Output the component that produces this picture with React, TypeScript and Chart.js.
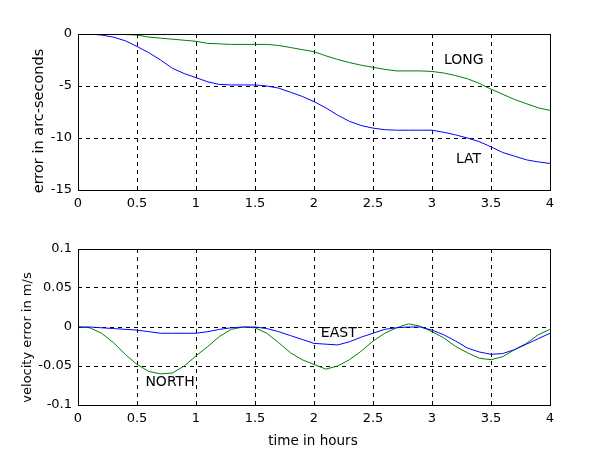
import React, { useEffect, useRef } from "react";
import { Chart, registerables } from "chart.js";

Chart.register(...registerables);

// ---------- data ----------
const timeHours = [
  0, 0.1, 0.2, 0.3, 0.4, 0.5, 0.6, 0.7, 0.8, 0.9, 1.0, 1.1, 1.2, 1.3, 1.4, 1.5, 1.6, 1.7, 1.8, 1.9, 2.0,
  2.1, 2.2, 2.3, 2.4, 2.5, 2.6, 2.7, 2.8, 2.9, 3.0, 3.1, 3.2, 3.3, 3.4, 3.5, 3.6, 3.7, 3.8, 3.9, 4.0,
];

const latError = [
  0, 0, -0.1, -0.3, -0.65, -1.2, -1.8, -2.5, -3.3, -3.8, -4.2, -4.6, -4.85, -4.9, -4.9, -4.9, -5.0, -5.2,
  -5.6, -6.0, -6.5, -7.1, -7.8, -8.4, -8.8, -9.05, -9.2, -9.25, -9.25, -9.25, -9.25, -9.45, -9.7, -10.0,
  -10.35, -10.85, -11.4, -11.75, -12.1, -12.3, -12.45,
];

const longError = [
  0, 0, 0, 0, -0.05, -0.1, -0.3, -0.4, -0.5, -0.6, -0.7, -0.9, -0.95, -1.0, -1.0, -1.0, -1.0, -1.1, -1.3,
  -1.5, -1.7, -2.1, -2.45, -2.75, -3.0, -3.2, -3.4, -3.55, -3.55, -3.55, -3.6, -3.75, -4.0, -4.3, -4.75,
  -5.3, -5.8, -6.3, -6.7, -7.1, -7.35,
];

const northVelError = [
  0, -0.001, -0.008, -0.02, -0.035, -0.048, -0.057, -0.06, -0.059, -0.05, -0.037, -0.025, -0.012, -0.003,
  0, -0.001, -0.008, -0.02, -0.033, -0.042, -0.048, -0.054, -0.05, -0.042, -0.031, -0.018, -0.008, -0.001,
  0.004, 0.001, -0.006, -0.014, -0.025, -0.033, -0.04, -0.042, -0.038, -0.029, -0.021, -0.01, -0.003,
];

const eastVelError = [
  0, 0, -0.001, -0.002, -0.003, -0.004, -0.006, -0.008, -0.008, -0.008, -0.008, -0.006, -0.003, -0.001, 0,
  0, -0.002, -0.006, -0.011, -0.016, -0.021, -0.022, -0.023, -0.019, -0.013, -0.008, -0.003, -0.001, 0, 0,
  -0.004, -0.01, -0.018, -0.027, -0.032, -0.035, -0.034, -0.029, -0.022, -0.015, -0.008,
];

const xTickValues = [0, 0.5, 1, 1.5, 2, 2.5, 3, 3.5, 4];
const xTickLabels = ["0", "0.5", "1", "1.5", "2", "2.5", "3", "3.5", "4"];
const posTickValues = [-15, -10, -5, 0];
const posTickLabels = ["-15", "-10", "-5", "0"];
const velTickValues = [-0.1, -0.05, 0, 0.05, 0.1];
const velTickLabels = ["-0.1", "-0.05", "0", "0.05", "0.1"];

const topLabels = [
  { text: "LONG", x: 3.27, y: -2.37 },
  { text: "LAT", x: 3.31, y: -11.9 },
];
const bottomLabels = [
  { text: "EAST", x: 2.21, y: -0.0067 },
  { text: "NORTH", x: 0.78, y: -0.069 },
];

const topYTitle = "error in arc-seconds";
const bottomYTitle = "velocity error in m/s";
const xTitle = "time in hours";

// ---------- styling ----------
const FONT = "'DejaVu Sans', sans-serif";
const BLUE = "rgb(0,0,255)";
const GREEN = "rgb(0,128,0)";

function toPoints(values: number[]) {
  return timeHours.map((t, i) => ({ x: t, y: values[i] }));
}

function makeDecor(cfg: {
  labels: { text: string; x: number; y: number }[];
  yTitle: string;
  yTitleX: number;
  yTitleY: number;
  yTitleSize: number;
  xTitle?: string;
  xTitleX?: number;
  xTitleY?: number;
}) {
  return {
    id: "decor",
    afterDatasetsDraw(chart: any) {
      const ctx = chart.ctx as CanvasRenderingContext2D;
      const { left, top, right, bottom } = chart.chartArea;
      const xs = chart.scales.x;
      const ys = chart.scales.y;
      ctx.save();
      ctx.setLineDash([]);
      ctx.strokeStyle = "#000";
      ctx.lineWidth = 1;
      const l = Math.round(left) + 0.5;
      const t = Math.round(top) + 0.5;
      const r = Math.round(right) + 0.5;
      const b = Math.round(bottom) + 0.5;
      ctx.strokeRect(l, t, r - l, b - t);

      ctx.fillStyle = "#000";
      ctx.font = `14px ${FONT}`;
      ctx.textAlign = "center";
      ctx.textBaseline = "alphabetic";
      for (const lab of cfg.labels) {
        const px = xs.getPixelForValue(lab.x);
        const py = ys.getPixelForValue(lab.y);
        ctx.fillText(lab.text, px, py + 5);
      }

      ctx.save();
      ctx.font = `${cfg.yTitleSize}px ${FONT}`;
      ctx.translate(cfg.yTitleX, cfg.yTitleY);
      ctx.rotate(-Math.PI / 2);
      ctx.textAlign = "center";
      ctx.textBaseline = "alphabetic";
      ctx.fillText(cfg.yTitle, 0, 0);
      ctx.restore();

      if (cfg.xTitle) {
        ctx.font = `13.5px ${FONT}`;
        ctx.textAlign = "center";
        ctx.textBaseline = "alphabetic";
        ctx.fillText(cfg.xTitle, cfg.xTitleX as number, cfg.xTitleY as number);
      }
      ctx.restore();
    },
  };
}

function buildConfig(opts: {
  datasets: { data: number[]; color: string }[];
  yMin: number;
  yMax: number;
  yTicks: number[];
  yLabels: string[];
  padTop: number;
  xHeight: number;
  decor: any;
}) {
  const tickFont = { family: FONT, size: 13 };
  return {
    type: "line" as const,
    data: {
      datasets: opts.datasets.map((d) => ({
        data: toPoints(d.data),
        borderColor: d.color,
        backgroundColor: d.color,
        borderWidth: 1,
        pointRadius: 0,
        tension: 0,
        fill: false,
      })),
    },
    options: {
      animation: false as const,
      responsive: false,
      maintainAspectRatio: false,
      events: [],
      layout: { padding: { top: opts.padTop, right: 50, left: 0, bottom: 0 } },
      plugins: { legend: { display: false }, tooltip: { enabled: false } },
      scales: {
        x: {
          type: "linear" as const,
          min: 0,
          max: 4,
          afterBuildTicks: (s: any) => {
            s.ticks = xTickValues.map((v) => ({ value: v }));
          },
          afterFit: (s: any) => {
            s.height = opts.xHeight;
          },
          ticks: {
            callback: (_v: any, i: number) => xTickLabels[i],
            font: tickFont,
            color: "#000",
            padding: 6,
            maxRotation: 0,
            autoSkip: false,
          },
          grid: { color: "#000", lineWidth: 1, drawTicks: false, tickLength: 0 },
          border: { display: false, dash: [4, 4] },
        },
        y: {
          type: "linear" as const,
          min: opts.yMin,
          max: opts.yMax,
          afterBuildTicks: (s: any) => {
            s.ticks = opts.yTicks.map((v) => ({ value: v }));
          },
          afterFit: (s: any) => {
            s.width = 78;
          },
          ticks: {
            callback: (_v: any, i: number) => opts.yLabels[i],
            font: tickFont,
            color: "#000",
            padding: 6,
            autoSkip: false,
          },
          grid: { color: "#000", lineWidth: 1, drawTicks: false, tickLength: 0 },
          border: { display: false, dash: [4, 4] },
        },
      },
    },
    plugins: [opts.decor],
  };
}

export default function App() {
  const topRef = useRef<HTMLCanvasElement | null>(null);
  const bottomRef = useRef<HTMLCanvasElement | null>(null);

  useEffect(() => {
    if (!topRef.current || !bottomRef.current) return;
    const topChart = new Chart(
      topRef.current,
      buildConfig({
        datasets: [
          { data: latError, color: BLUE },
          { data: longError, color: GREEN },
        ],
        yMin: -15,
        yMax: 0,
        yTicks: posTickValues,
        yLabels: posTickLabels,
        padTop: 34,
        xHeight: 35,
        decor: makeDecor({
          labels: topLabels,
          yTitle: topYTitle,
          yTitleX: 43,
          yTitleY: 121,
          yTitleSize: 14.5,
        }),
      }) as any
    );
    const bottomChart = new Chart(
      bottomRef.current,
      buildConfig({
        datasets: [
          { data: eastVelError, color: BLUE },
          { data: northVelError, color: GREEN },
        ],
        yMin: -0.1,
        yMax: 0.1,
        yTicks: velTickValues,
        yLabels: velTickLabels,
        padTop: 24,
        xHeight: 45,
        decor: makeDecor({
          labels: bottomLabels,
          yTitle: bottomYTitle,
          yTitleX: 31,
          yTitleY: 112.5,
          yTitleSize: 13,
          xTitle: xTitle,
          xTitleX: 313,
          xTitleY: 220,
        }),
      }) as any
    );
    return () => {
      topChart.destroy();
      bottomChart.destroy();
    };
  }, []);

  return (
    <div
      style={{
        position: "fixed",
        left: 0,
        top: 0,
        width: 600,
        height: 450,
        background: "#fff",
      }}
    >
      <canvas
        ref={topRef}
        width={600}
        height={225}
        style={{ position: "absolute", left: 0, top: 0, width: 600, height: 225, display: "block" }}
      />
      <canvas
        ref={bottomRef}
        width={600}
        height={225}
        style={{ position: "absolute", left: 0, top: 225, width: 600, height: 225, display: "block" }}
      />
    </div>
  );
}
